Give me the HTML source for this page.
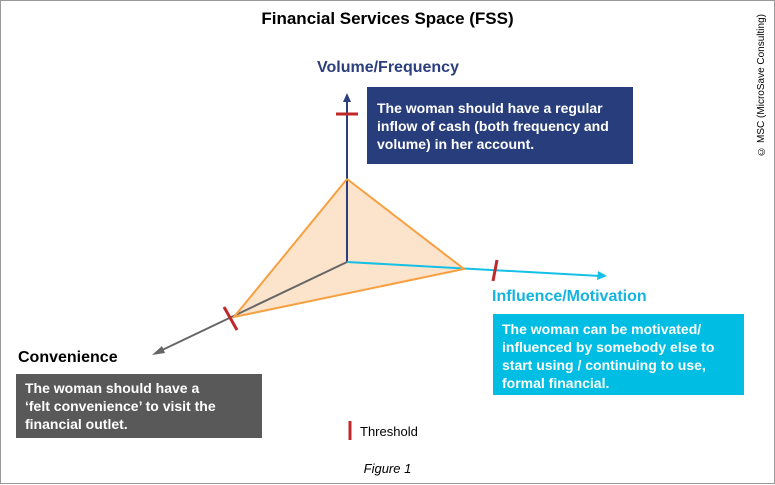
<!DOCTYPE html>
<html><head><style>
body{margin:0;width:775px;height:485px;background:#fff;font-family:"Liberation Sans",sans-serif;position:relative;overflow:hidden}
.frame{position:absolute;left:0;top:0;width:773px;height:482px;border:1px solid #999}
.t{position:absolute;white-space:nowrap}
.box{position:absolute;color:#fff;font-weight:bold;font-size:14px;line-height:18px;box-sizing:border-box;white-space:nowrap}
</style></head><body>
<div class="frame"></div>
<div class="t" style="left:0;width:775px;text-align:center;top:9px;font-size:17px;font-weight:bold;color:#000">Financial Services Space (FSS)</div>
<div class="t" style="left:317px;top:59px;font-size:16px;font-weight:bold;color:#2b3f7e">Volume/Frequency</div>
<div class="t" style="left:492px;top:288px;font-size:16px;font-weight:bold;color:#14b4e0">Influence/Motivation</div>
<div class="t" style="left:18px;top:349px;font-size:16px;font-weight:bold;color:#000">Convenience</div>
<div class="box" style="left:367px;top:87px;width:266px;height:77px;background:#283e7c;padding:12px 8px 0 10px">The woman should have a regular<br>inflow of cash (both frequency and<br>volume) in her account.</div>
<div class="box" style="left:493px;top:314px;width:251px;height:81px;background:#00bde3;padding:6px 6px 0 9px">The woman can be motivated/<br>influenced by somebody else to<br>start using / continuing to use,<br>formal financial.</div>
<div class="box" style="left:16px;top:374px;width:246px;height:64px;background:#595959;padding:5px 6px 0 9px">The woman should have a<br>‘felt convenience’ to visit the<br>financial outlet.</div>
<div class="t" style="left:360px;top:424px;font-size:13px;color:#000">Threshold</div>
<div class="t" style="left:0;width:775px;text-align:center;top:461px;font-size:13px;font-style:italic;color:#000">Figure 1</div>
<div class="t" style="left:756px;top:14px;font-size:10px;color:#000;writing-mode:vertical-rl;transform:rotate(180deg)">© MSC (MicroSave Consulting)</div>
<svg width="775" height="485" style="position:absolute;left:0;top:0">
<polygon points="347,179 464,269 234,317" fill="#fbe3cc" stroke="none"/>
<line x1="347" y1="262" x2="347" y2="100" stroke="#2b3f7e" stroke-width="2"/>
<polygon points="347,93 343,102 351,102" fill="#2b3f7e"/>
<line x1="347" y1="262" x2="600" y2="276" stroke="#14c0e6" stroke-width="2"/>
<polygon points="607,276 598,271 597,280" fill="#14c0e6"/>
<line x1="347" y1="262" x2="158" y2="352" stroke="#666" stroke-width="2"/>
<polygon points="152,355 162,346 165,353" fill="#666"/>
<polyline points="347,179 464,269 234,317 347,179" fill="none" stroke="#f7a040" stroke-width="2"/>
<line x1="336" y1="114" x2="358" y2="114" stroke="#c0282a" stroke-width="3"/>
<line x1="497" y1="260" x2="493" y2="281" stroke="#c0282a" stroke-width="3"/>
<line x1="224" y1="307" x2="237" y2="330" stroke="#c0282a" stroke-width="3"/>
<line x1="350" y1="421" x2="350" y2="440" stroke="#c0282a" stroke-width="3"/>
</svg>
</body></html>
